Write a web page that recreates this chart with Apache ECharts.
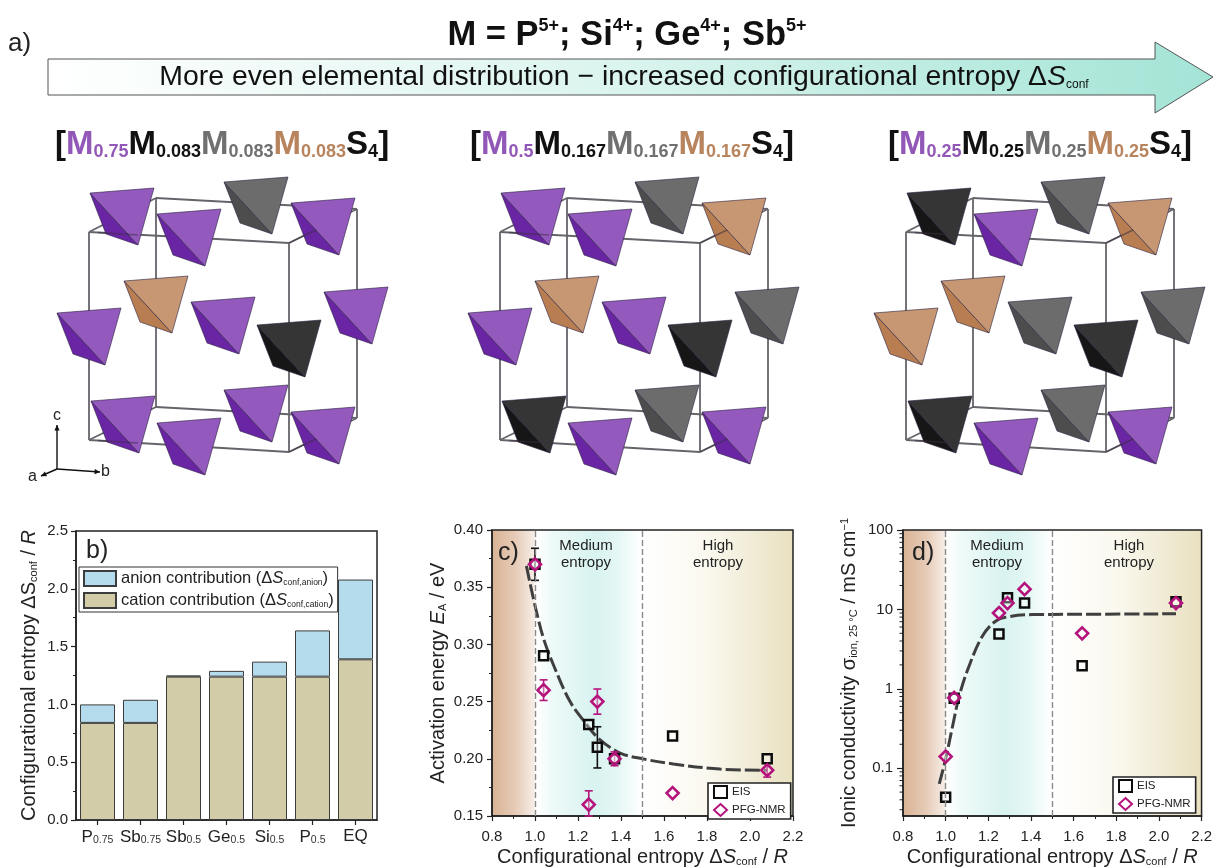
<!DOCTYPE html>
<html><head><meta charset="utf-8">
<style>html,body{margin:0;padding:0;background:#fff}#c{width:1215px;height:868px}</style>
<script src="https://cdn.jsdelivr.net/npm/echarts@6/dist/echarts.min.js"></script>
</head><body><div id="c"></div>
<script>
// ---------- data ----------
const compBase = ['P','Sb','Sb','Ge','Si','P','EQ'];
const compSub = ['0.75','0.75','0.5','0.5','0.5','0.5',''];
const cationEntropy = [0.84,0.84,1.24,1.24,1.24,1.24,1.39];
const anionEntropy = [0.16,0.20,0.01,0.05,0.13,0.40,0.69];

const eisEa = [[1.0,0.37],[1.04,0.29],[1.25,0.23],[1.29,0.21],[1.37,0.20],[1.64,0.22],[2.08,0.20]];
const nmrEa = [[1.0,0.37],[1.04,0.26],[1.25,0.16],[1.29,0.25],[1.37,0.20],[1.64,0.17],[2.08,0.19]];
const eisEaErr = [[1.0,0.356,0.384],[1.29,0.192,0.228]];
const nmrEaErr = [[1.04,0.251,0.269],[1.25,0.15,0.172],[1.29,0.239,0.261],[1.37,0.194,0.206],[2.08,0.184,0.196]];
const fitEa = [[0.96,0.3686],[1.0,0.334],[1.04,0.305],[1.086,0.282],[1.163,0.25],[1.24,0.23],[1.30,0.217],[1.396,0.205],[1.5,0.20],[1.643,0.1955],[1.86,0.191],[2.08,0.19]];

const eisSigma = [[1.0,0.043],[1.04,0.76],[1.25,4.9],[1.29,14],[1.37,12],[1.64,1.95],[2.08,12.5]];
const nmrSigma = [[1.0,0.14],[1.04,0.77],[1.25,9],[1.29,12],[1.37,18],[1.64,5],[2.08,12]];
const fitSigma = [[0.97,0.0635],[1.0,0.131],[1.033,0.343],[1.064,0.817],[1.11,1.94],[1.172,4.6],[1.234,7.1],[1.296,8.1],[1.405,8.6],[1.5,8.65],[2.08,8.8]];
const entropyBounds = [1.0,1.5];
const logMinorTicks = [0.03,0.04,0.05,0.06,0.07,0.08,0.09,0.2,0.3,0.4,0.5,0.6,0.7,0.8,0.9,2,3,4,5,6,7,8,9,20,30,40,50,60,70,80,90];

// ---------- schematic (panel a) ----------
const tetraSites = [[90,193],[157,214],[224,182],[291,203],[124,281],[57,313],[191,302],[257,325],[324,292],[91,401],[157,423],[224,390],[291,412]];
const panelKinds = [
 ['p','p','g','p','b','p','p','k','p','p','p','p','p'],
 ['p','p','g','b','b','p','p','k','g','k','p','g','p'],
 ['k','p','g','b','b','b','g','k','g','k','p','g','p']
];
const panelShift = [0,411,817];
const palette = {
 p:['#9359bd','#6a25a5'], g:['#6c6c6c','#4d4d4d'], b:['#c69772','#b87d50'], k:['#353535','#161616']
};
const FONT = '"Liberation Sans", Arial, sans-serif';
const INK = '#222';

const g = [];
function line(x1,y1,x2,y2,stroke,w,op){g.push({type:'line',silent:true,shape:{x1,y1,x2,y2},style:{stroke,lineWidth:w,opacity:op===undefined?1:op}});}
function label(x,y,text,o){g.push({type:'text',silent:true,x,y,style:Object.assign({text,fill:INK,font:'16px '+FONT},o)});}

// arrow
g.push({type:'polygon',silent:true,shape:{points:[[48,59],[1155,59],[1155,42],[1213,77],[1155,113],[1155,95],[48,95]]},
 style:{fill:new echarts.graphic.LinearGradient(0,0,1,0,[{offset:0,color:'#ffffff'},{offset:0.5,color:'#daf4ee'},{offset:1,color:'#a3e4d6'}]),stroke:'#555',lineWidth:1}});
const richTop={m:{font:'bold 34.5px '+FONT,fill:'#111',verticalAlign:'bottom'},u:{font:'bold 18px '+FONT,fill:'#111',verticalAlign:'top',padding:[0,0,12,0]}};
label(627,35,'{m|M = P}{u|5+}{m|; Si}{u|4+}{m|; Ge}{u|4+}{m|; Sb}{u|5+}',{rich:richTop,align:'center',verticalAlign:'middle'});
label(8,44,'a)',{font:'26px '+FONT,verticalAlign:'middle'});
label(624,77,'{t|More even elemental distribution \u2212 increased configurational entropy \u0394}{i|S}{s|conf}',{align:'center',verticalAlign:'middle',
 rich:{t:{font:'28.4px '+FONT,fill:'#111'},i:{font:'italic 28.4px '+FONT,fill:'#111'},s:{font:'12px '+FONT,fill:'#111',verticalAlign:'bottom',padding:[8,0,0,0]}}});

// formulae
const cP='#9258b8',cK='#111',cG='#707070',cB='#b8845e';
const fRich={};
[['p',cP],['k',cK],['g',cG],['b',cB]].forEach(([n,c])=>{
 fRich[n]={font:'bold 33px '+FONT,fill:c};
 fRich[n+'s']={font:'bold 18px '+FONT,fill:c,verticalAlign:'bottom',padding:[10,0,0,0]};
});
const formulas=[['0.75','0.083','0.083','0.083'],['0.5','0.167','0.167','0.167'],['0.25','0.25','0.25','0.25']];
const formulaX=[55,470,888];
formulas.forEach((f,i)=>{
 label(formulaX[i],145,`{k|[}{p|M}{ps|${f[0]}}{k|M}{ks|${f[1]}}{g|M}{gs|${f[2]}}{b|M}{bs|${f[3]}}{k|S}{ks|4}{k|]}`,{rich:fRich,verticalAlign:'middle'});
});

// unit cells and tetrahedra
panelKinds.forEach((kinds,pi)=>{
 const d=panelShift[pi], c='#66646a', w=1.8;
 const F=[[89,232],[289,243],[289,452],[89,440]], B=[[156,198],[357,209],[357,418],[156,407]];
 for(let i=0;i<4;i++){
  const j=(i+1)%4;
  line(B[i][0]+d,B[i][1],B[j][0]+d,B[j][1],c,w);
  line(F[i][0]+d,F[i][1],F[j][0]+d,F[j][1],c,w);
  line(F[i][0]+d,F[i][1],B[i][0]+d,B[i][1],c,w);
 }
 tetraSites.forEach(([x0,y0],i)=>{
  const x=x0+d,y=y0, col=palette[kinds[i]];
  g.push({type:'polygon',silent:true,shape:{points:[[x,y],[x+48,y+52],[x+16,y+41]]},style:{fill:col[1],stroke:'#2a2040',lineWidth:0.6}});
  g.push({type:'polygon',silent:true,shape:{points:[[x,y],[x+64,y-5],[x+48,y+52]]},style:{fill:col[0],stroke:'#2a2040',lineWidth:0.6}});
 });
 // edges seen through the corner sites
 line(98+d,232.5,138+d,235,'#3a3040',1.6,0.55);
 line(289+d,243,316+d,230,'#3a3040',1.6,0.55);
 line(98+d,440.5,138+d,443,'#3a3040',1.6,0.55);
 line(289+d,452,316+d,439,'#3a3040',1.6,0.55);
});
// crystal axes
[[57,469,57,425],[57,469,100,472],[57,469,41,476]].forEach(a=>{
 line(a[0],a[1],a[2],a[3],'#111',1.4);
 const ang=Math.atan2(a[3]-a[1],a[2]-a[0]);
 g.push({type:'polygon',silent:true,shape:{points:[[a[2],a[3]],[a[2]-6*Math.cos(ang-0.45),a[3]-6*Math.sin(ang-0.45)],[a[2]-6*Math.cos(ang+0.45),a[3]-6*Math.sin(ang+0.45)]]},style:{fill:'#111'}});
});
label(53,416,'c',{font:'16px '+FONT,verticalAlign:'middle'});
label(101,472,'b',{font:'16px '+FONT,verticalAlign:'middle'});
label(28,477,'a',{font:'16px '+FONT,verticalAlign:'middle'});

// panel letters and region labels
label(86,551,'b)',{font:'25px '+FONT,verticalAlign:'middle'});
label(498,553,'c)',{font:'25px '+FONT,verticalAlign:'middle'});
label(912,553,'d)',{font:'25px '+FONT,verticalAlign:'middle'});
const regionStyle={font:'15px '+FONT,align:'center',verticalAlign:'middle',lineHeight:17};
label(586,554,'Medium\nentropy',regionStyle);
label(718,554,'High\nentropy',regionStyle);
label(997,554,'Medium\nentropy',regionStyle);
label(1129,554,'High\nentropy',regionStyle);

// ---------- chart helpers ----------
const bgGradient=new echarts.graphic.LinearGradient(0,0,1,0,[
 {offset:0,color:'#d9b294'},{offset:0.08,color:'#e6cbb7'},{offset:0.14,color:'#f6ece5'},{offset:0.15,color:'#ffffff'},
 {offset:0.2,color:'#eefaf8'},{offset:0.34,color:'#d8f3f0'},{offset:0.42,color:'#e5f7f5'},{offset:0.5,color:'#ffffff'},
 {offset:0.72,color:'#faf8ee'},{offset:1,color:'#e8e0c0'}]);
const baseAxisLine={show:true,onZero:false,lineStyle:{color:INK,width:1.5}};
const axisText={color:INK,fontSize:15,fontFamily:FONT};
const nameRich={t:{fontSize:20,fontFamily:FONT,color:INK},i:{fontSize:20,fontFamily:FONT,fontStyle:'italic',color:INK},
 s:{fontSize:11,fontFamily:FONT,color:INK,verticalAlign:'bottom',padding:[7,0,0,0]},u:{fontSize:11,fontFamily:FONT,color:INK,verticalAlign:'top',padding:[0,0,7,0]}};
function xAxisFor(i){return {type:'value',gridIndex:i,min:0.8,max:2.2,interval:0.2,
 axisLine:baseAxisLine,axisTick:{show:true,inside:false,length:5,lineStyle:{color:INK,width:1.2}},
 minorTick:{show:true,splitNumber:2,length:3,lineStyle:{color:INK,width:1}},
 splitLine:{show:false},minorSplitLine:{show:false},
 axisLabel:Object.assign({},axisText,{margin:13,formatter:v=>v.toFixed(1)}),
 name:'{t|Configurational entropy \u0394}{i|S}{s|conf}{t| / }{i|R}',nameLocation:'middle',nameGap:31,nameMoveOverlap:false,
 nameTextStyle:{rich:nameRich}};}

function errSeries(name,data,xi,yi,color){return {type:'custom',name,xAxisIndex:xi,yAxisIndex:yi,data,silent:true,z:3,
 encode:{x:0,y:[1,2]},clip:false,
 renderItem:(p,api)=>{const x=api.value(0),a=api.coord([x,api.value(1)]),b=api.coord([x,api.value(2)]);const cap=4;
  const st={stroke:color,lineWidth:1.6};
  return {type:'group',children:[
   {type:'line',shape:{x1:a[0],y1:a[1],x2:b[0],y2:b[1]},style:st},
   {type:'line',shape:{x1:a[0]-cap,y1:a[1],x2:a[0]+cap,y2:a[1]},style:st},
   {type:'line',shape:{x1:b[0]-cap,y1:b[1],x2:b[0]+cap,y2:b[1]},style:st}]};}};}
function boundsLines(){return {silent:true,symbol:'none',label:{show:false},animation:false,
 lineStyle:{color:'#8a8a8a',type:[6,3],width:1.4},data:entropyBounds.map(v=>({xAxis:v}))};}
function fitSeries(data,xi,yi){return {type:'line',name:'fit',data,xAxisIndex:xi,yAxisIndex:yi,smooth:0.35,symbol:'none',z:2,
 lineStyle:{color:'#3f3f3f',width:3,type:[15,4]},markLine:boundsLines()};}
function eisSeries(data,xi,yi){return {type:'scatter',name:'EIS',data,xAxisIndex:xi,yAxisIndex:yi,symbol:'rect',symbolSize:9,z:4,
 itemStyle:{color:'rgba(255,255,255,0.35)',borderColor:'#0c0c0c',borderWidth:2.5,opacity:1}};}
function nmrSeries(data,xi,yi){return {type:'scatter',name:'PFG-NMR',data,xAxisIndex:xi,yAxisIndex:yi,symbol:'diamond',symbolSize:12,z:5,
 itemStyle:{color:'rgba(255,255,255,0.35)',borderColor:'#b5137c',borderWidth:2.6,opacity:1}};}
function pointLegend(left,top){return {show:true,data:['EIS','PFG-NMR'],orient:'vertical',left,top,itemWidth:13,itemHeight:12,itemGap:4,
 padding:[2,5,2,5],backgroundColor:'#fff',borderColor:'#222',borderWidth:1.6,textStyle:{fontSize:11.5,fontFamily:FONT,color:INK},selectedMode:false};}

const legendRich={t:{fontSize:16.5,fontFamily:FONT,color:INK},i:{fontSize:16.5,fontFamily:FONT,fontStyle:'italic',color:INK},
 s:{fontSize:8.5,fontFamily:FONT,color:INK,verticalAlign:'bottom',padding:[6,0,0,0]}};
const subRich={t:{fontSize:17,fontFamily:FONT,color:INK},s:{fontSize:10.5,fontFamily:FONT,color:'#333',verticalAlign:'bottom',padding:[7,0,0,0]}};
const categories=compBase.map((b,i)=>b+compSub[i]);

const option={
 animation:false,backgroundColor:'#ffffff',textStyle:{fontFamily:FONT},
 graphic:{elements:g},
 legend:[
  {show:true,data:['anion','cation'],icon:'rect',orient:'vertical',left:79,top:567,itemWidth:32,itemHeight:15,itemGap:5,padding:[3,4,3,4],
   backgroundColor:'#fff',borderColor:'#333',borderWidth:1,selectedMode:false,
   formatter:n=>n==='anion'?'{t|anion contribution (\u0394}{i|S}{s|conf,anion}{t|)}':'{t|cation contribution (\u0394}{i|S}{s|conf,cation}{t|)}',
   textStyle:{rich:legendRich}},
  pointLegend(708,783),pointLegend(1113,777)
 ],
 grid:[
  {left:76,top:531,width:301,height:289,show:true,borderColor:INK,borderWidth:1.5,backgroundColor:'transparent'},
  {left:492,top:530,width:301,height:289,show:true,borderColor:INK,borderWidth:1.5,backgroundColor:bgGradient},
  {left:903,top:530,width:301,height:288,show:true,borderColor:INK,borderWidth:1.5,backgroundColor:bgGradient}
 ],
 xAxis:[
  {type:'category',gridIndex:0,data:categories,axisLine:baseAxisLine,
   axisTick:{show:true,alignWithLabel:true,length:5,lineStyle:{color:INK,width:1.2}},splitLine:{show:false},
   axisLabel:{interval:0,margin:8,hideOverlap:false,rich:subRich,formatter:(v,i)=>`{t|${compBase[i]}}`+(compSub[i]?`{s|${compSub[i]}}`:'')}},
  xAxisFor(1),xAxisFor(2)
 ],
 yAxis:[
  {type:'value',gridIndex:0,min:0,max:2.5,interval:0.5,axisLine:baseAxisLine,
   axisTick:{show:true,length:5,lineStyle:{color:INK,width:1.2}},minorTick:{show:true,splitNumber:2,length:3,lineStyle:{color:INK,width:1}},
   splitLine:{show:false},axisLabel:Object.assign({},axisText,{margin:8,formatter:v=>v.toFixed(1)}),
   name:'{t|Configurational entropy \u0394S}{s|conf}{t| / }{i|R}',nameLocation:'middle',nameRotate:90,nameGap:37,nameTextStyle:{rich:nameRich}},
  {type:'value',gridIndex:1,min:0.15,max:0.40,interval:0.05,axisLine:baseAxisLine,
   axisTick:{show:true,length:5,lineStyle:{color:INK,width:1.2}},minorTick:{show:true,splitNumber:2,length:3,lineStyle:{color:INK,width:1}},
   splitLine:{show:false},axisLabel:Object.assign({},axisText,{margin:9,formatter:v=>v.toFixed(2)}),
   name:'{t|Activation energy }{i|E}{s|A}{t| / eV}',nameLocation:'middle',nameRotate:90,nameGap:44,nameTextStyle:{rich:nameRich}},
  {type:'log',gridIndex:2,logBase:10,min:0.025,max:100,axisLine:baseAxisLine,
   axisTick:{show:true,length:6,lineStyle:{color:INK,width:1.2}},minorTick:{show:false},
   splitLine:{show:false},
   axisLabel:Object.assign({},axisText,{margin:10,showMinLabel:false,formatter:v=>{const l=Math.log10(v);return Math.abs(l-Math.round(l))<1e-6?String(+v.toPrecision(1)):'';}}),
   name:'{t|Ionic conductivity \u03c3}{s|ion, 25 \u00b0C}{t| / mS cm}{u|\u22121}',nameLocation:'middle',nameRotate:90,nameGap:44,nameTextStyle:{rich:nameRich}}
 ],
 series:[
  {type:'bar',name:'cation',stack:'s',data:cationEntropy,xAxisIndex:0,yAxisIndex:0,barWidth:35,itemStyle:{color:'#d2cda8',borderColor:'#3d3d3d',borderWidth:1}},
  {type:'bar',name:'anion',stack:'s',data:anionEntropy,xAxisIndex:0,yAxisIndex:0,barWidth:35,itemStyle:{color:'#b5dcec',borderColor:'#3d3d3d',borderWidth:1}},
  fitSeries(fitEa,1,1),
  errSeries('EIS err',eisEaErr,1,1,'#111'),errSeries('NMR err',nmrEaErr,1,1,'#b5137c'),
  eisSeries(eisEa,1,1),nmrSeries(nmrEa,1,1),
  fitSeries(fitSigma,2,2),
  eisSeries(eisSigma,2,2),nmrSeries(nmrSigma,2,2),
  {type:'custom',name:'log minor ticks',xAxisIndex:2,yAxisIndex:2,silent:true,clip:false,z:6,
   data:logMinorTicks.map(v=>[0.8,v]),encode:{x:0,y:1},
   renderItem:(p,api)=>{const a=api.coord([api.value(0),api.value(1)]);
    return {type:'line',shape:{x1:a[0]-3.5,y1:a[1],x2:a[0],y2:a[1]},style:{stroke:INK,lineWidth:1}};}}
 ]
};
const chart=echarts.init(document.getElementById('c'),null,{renderer:'canvas'});
chart.setOption(option);
</script></body></html>
